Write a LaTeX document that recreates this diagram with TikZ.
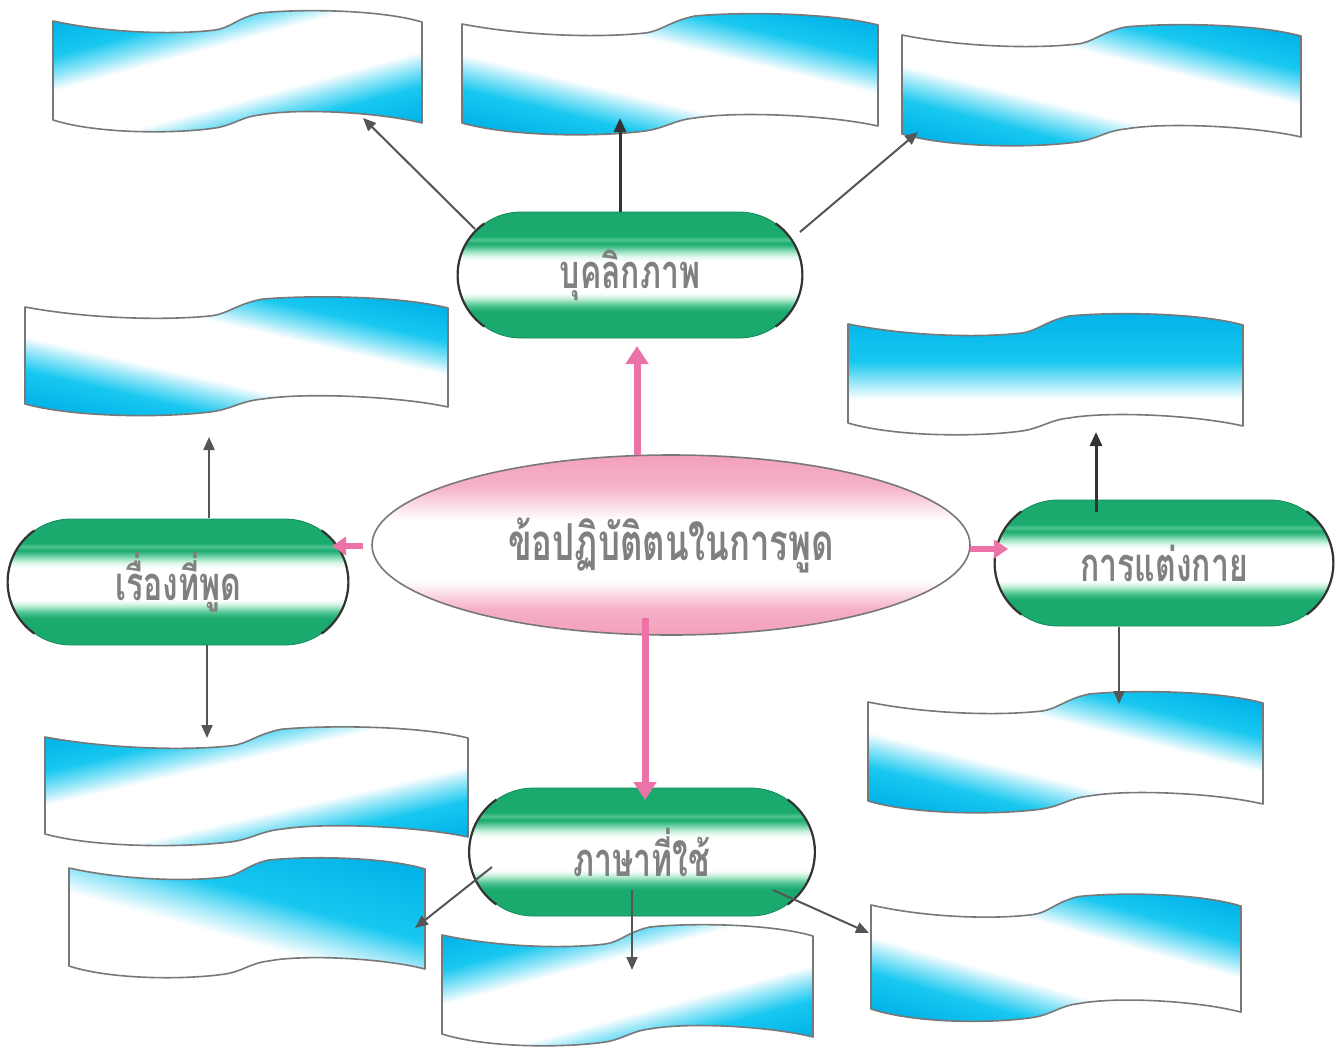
\documentclass[tikz,border=0pt]{standalone}
\usepackage{fontspec}
\usetikzlibrary{shapes.misc,shapes.geometric,arrows.meta}
\newfontfamily\thaifont[Script=Thai,FakeStretch=0.68]{Loma}
\definecolor{gD}{RGB}{26,170,110}
\definecolor{gM}{RGB}{80,195,145}
\definecolor{gL}{RGB}{165,230,198}
\definecolor{gW}{RGB}{222,247,234}
\definecolor{pk}{RGB}{243,160,188}
\definecolor{pkA}{RGB}{236,115,168}
\definecolor{cy}{RGB}{25,200,240}
\definecolor{cyD}{RGB}{0,178,232}
\definecolor{cyL}{RGB}{150,230,248}
\definecolor{bgray}{RGB}{120,120,120}
\definecolor{agray}{RGB}{85,85,85}
\definecolor{txt}{RGB}{128,128,128}
\pgfdeclareverticalshading{capshade}{100bp}{color(0bp)=(gD); color(25bp)=(gD); color(35.5bp)=(gD); color(38bp)=(gM); color(40bp)=(gL); color(41.5bp)=(gW); color(43bp)=(white); color(55.5bp)=(white); color(57.5bp)=(gW); color(59bp)=(gL); color(61bp)=(gM); color(62.5bp)=(gD); color(64bp)=(gM); color(65.5bp)=(gD); color(75bp)=(gD); color(100bp)=(gD)}
\pgfdeclareverticalshading{pinkshade}{100bp}{color(0bp)=(pk); color(25bp)=(pk); color(32bp)=(pk!85); color(40bp)=(white); color(57bp)=(white); color(66bp)=(pk!80); color(75bp)=(pk); color(100bp)=(pk)}
\pgfdeclarehorizontalshading{banA}{100bp}{color(0bp)=(cyD); color(40bp)=(cyD); color(43.5bp)=(cy); color(45.5bp)=(cyL); color(47bp)=(white); color(53bp)=(white); color(54.5bp)=(cyL); color(56.5bp)=(cy); color(60bp)=(cyD); color(100bp)=(cyD)}
\pgfdeclareverticalshading{banV}{100bp}{color(0bp)=(white); color(40bp)=(white); color(47bp)=(cyL); color(55bp)=(cy); color(75bp)=(cyD); color(100bp)=(cyD)}
\pgfdeclarehorizontalshading{banC}{100bp}{color(0bp)=(white); color(47.5bp)=(white); color(50bp)=(cyL); color(52.5bp)=(cy); color(60bp)=(cyD); color(100bp)=(cyD)}
\newcommand\bannerpath{(0,0) .. controls (0.15,12) and (0.33,14) .. (0.44,9) .. controls (0.48,7) and (0.50,-3) .. (0.56,-8) .. controls (0.66,-12) and (0.88,-12) .. (1,1) -- (1,102) .. controls (0.88,91) and (0.66,87) .. (0.56,94) .. controls (0.51,96) and (0.49,104) .. (0.44,107) .. controls (0.33,113) and (0.12,113) .. (0,99) -- cycle}
% #1 name, #2 x, #3 y, #4 width, #5 height, #6 kind: 0 = cyan top, 1 = cyan TL/BR, 2 = cyan BL/TR, 3 = cyan TR only
\newcommand\banner[6]{%
  \pgfmathsetmacro\bnAl{atan(#5/#4)}%
  \pgfmathsetmacro\bnS{#4/2*sin(\bnAl)+#5/2*cos(\bnAl)}%
  \pgfmathsetmacro\bnQx{\bnS/#4*2.5}%
  \pgfmathsetmacro\bnQy{\bnS/#5*250}%
  \ifcase#6
    \def\bnStyle{shading=banV}%
  \or
    \pgfmathsetmacro\bnAng{\bnAl-90}\def\bnStyle{shading=banA,shading angle=\bnAng}%
  \or
    \pgfmathsetmacro\bnAng{90-\bnAl}\def\bnStyle{shading=banA,shading angle=\bnAng}%
  \or
    \pgfmathsetmacro\bnAng{90-\bnAl}\def\bnStyle{shading=banC,shading angle=\bnAng}%
  \fi
  \begin{scope}[shift={(#2,#3)},xscale=#4,yscale=#5/100]
    \ifnum#6=0
      \expandafter\path\expandafter[\bnStyle] \bannerpath;
    \else
      \expandafter\path\expandafter[\bnStyle] \bannerpath (0.5-\bnQx,50-\bnQy) (0.5+\bnQx,50+\bnQy);
    \fi
    \draw[bannerbox] \bannerpath;
    \coordinate (#1) at (0.5,50);
  \end{scope}}
\newcommand\captext{\thaifont\bfseries\fontsize{47}{50}\selectfont\color{txt}}
\newcommand\capends[2]{%
  \draw[capend] ([xshift=#2pt]#1.west) ++(125:#2pt) arc[start angle=125,end angle=235,radius=#2pt];
  \draw[capend] ([xshift=-#2pt]#1.east) ++(-55:#2pt) arc[start angle=-55,end angle=55,radius=#2pt];}
\tikzset{
  bannerbox/.style={draw=bgray,line width=1.6pt,line join=round},
  capsule/.style={rounded rectangle,minimum width=344,minimum height=126,inner sep=0pt,shading=capshade,draw=gD!80!black,line width=0.8pt},
  capend/.style={draw=black!80,line width=2.2pt},
  centre/.style={ellipse,minimum width=598,minimum height=180,inner sep=0pt,shading=pinkshade,draw=bgray,line width=1.6pt},
  thin arrow/.style={draw=agray,line width=2pt,-{Triangle[length=13pt,width=11pt]}},
  dark arrow/.style={draw=black!80,line width=3pt,-{Triangle[length=14pt,width=12pt]}},
  pink arrow/.style={draw=pkA,line width=7pt,-{Triangle[length=18pt,width=22pt]}},
}
\begin{document}
\begin{tikzpicture}[x=1pt,y=-1pt]
\fill[white] (0,0) rectangle (1343,1047);
\useasboundingbox (0,0) rectangle (1343,1047);
% banners
\banner{b1}{53}{21}{369}{100}{1}
\banner{b2}{462}{24}{416}{100}{2}
\banner{b3}{902}{35}{399}{100}{2}
\banner{b4}{25}{307}{423}{98}{2}
\banner{b5}{848}{324}{395}{100}{0}
\banner{b6}{45}{737}{423}{98}{1}
\banner{b7}{69}{868}{356}{99}{3}
\banner{b8}{442}{935}{371}{100}{1}
\banner{b9}{868}{702}{395}{100}{2}
\banner{b10}{871}{905}{370}{105}{2}
% main nodes
\node[capsule] (c1) at (630,275) {\captext บุคลิกภาพ};
\node[capsule,minimum width=340] (c2) at (178,582) {\captext เรื่องที่พูด};
\node[capsule,minimum width=338] (c3) at (1164,563) {\captext การแต่งกาย};
\node[capsule,minimum width=345,minimum height=128] (c4) at (642,852) {\captext ภาษาที่ใช้};
\capends{c1}{63}
\capends{c2}{63}
\capends{c3}{63}
\capends{c4}{64}
\node[centre] (ctr) at (671,545) {\captext\fontsize{51}{54}\selectfont ข้อปฏิบัติตนในการพูด};
% connector end points
\coordinate (s1) at (475,229);  \coordinate (t1) at (363,118);
\coordinate (s2) at (620,212);  \coordinate (t2) at (620,118);
\coordinate (s3) at (800,232);  \coordinate (t3) at (918,132);
\coordinate (s4) at (209,518);  \coordinate (t4) at (209,437);
\coordinate (s5) at (207,645);  \coordinate (t5) at (207,738);
\coordinate (s6) at (1096,512); \coordinate (t6) at (1096,432);
\coordinate (s7) at (1119,627); \coordinate (t7) at (1119,704);
\coordinate (s8) at (492,867);  \coordinate (t8) at (415,928);
\coordinate (s9) at (632,890);  \coordinate (t9) at (632,970);
\coordinate (s10) at (773,890); \coordinate (t10) at (869,933);
\coordinate (p1) at (637,455);  \coordinate (q1) at (637,346);
\coordinate (p2) at (645,618);  \coordinate (q2) at (645,800);
\coordinate (p3) at (363,546);  \coordinate (q3) at (332,546);
\coordinate (p4) at (970,549);  \coordinate (q4) at (1008,549);
% connectors
\draw[thin arrow] (s1) -- (t1);
\draw[dark arrow] (s2) -- (t2);
\draw[thin arrow] (s3) -- (t3);
\draw[thin arrow] (s4) -- (t4);
\draw[thin arrow] (s5) -- (t5);
\draw[dark arrow] (s6) -- (t6);
\draw[thin arrow] (s7) -- (t7);
\draw[thin arrow] (s8) -- (t8);
\draw[thin arrow] (s9) -- (t9);
\draw[thin arrow] (s10) -- (t10);
\draw[pink arrow] (p1) -- (q1);
\draw[pink arrow] (p2) -- (q2);
\draw[pink arrow,line width=6pt,-{Triangle[length=14pt,width=18pt]}] (p3) -- (q3);
\draw[pink arrow,line width=6pt,-{Triangle[length=14pt,width=18pt]}] (p4) -- (q4);
\end{tikzpicture}
\end{document}
